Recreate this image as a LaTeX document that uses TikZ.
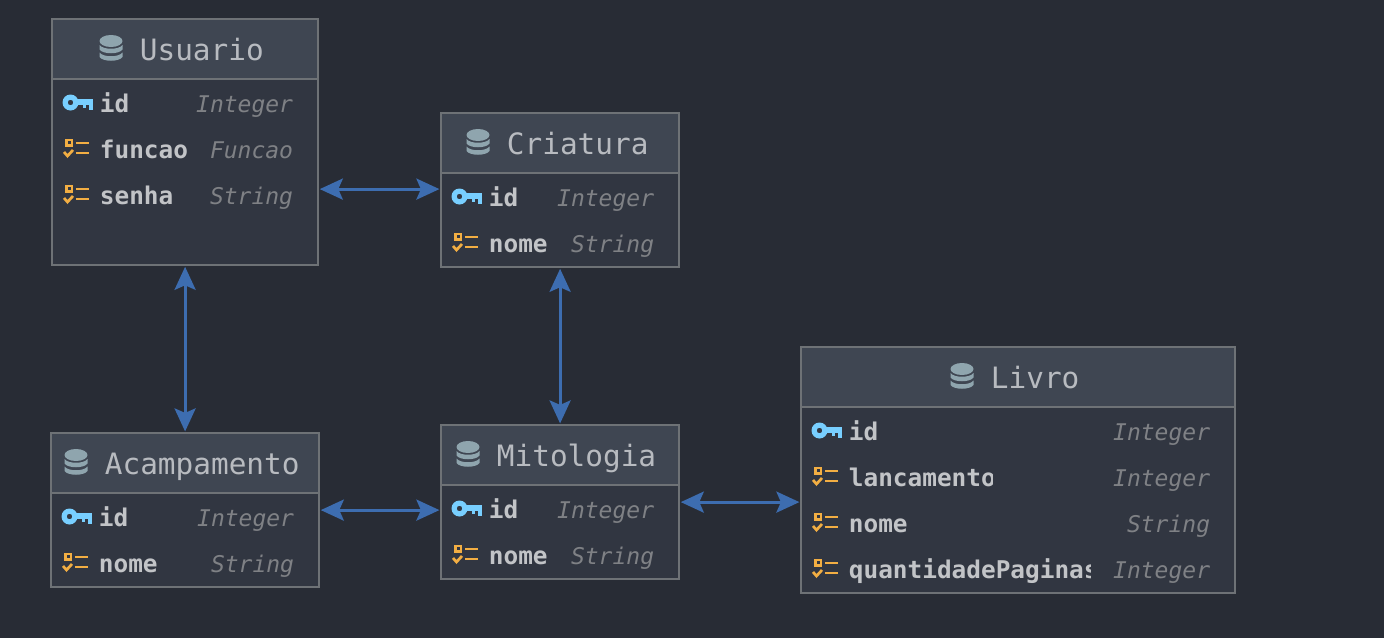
\documentclass[tikz,border=0pt]{standalone}
\usepackage{fontspec}
\setmainfont{DejaVu Sans Mono}
\usetikzlibrary{arrows.meta}
\definecolor{bgc}{HTML}{282C35}
\definecolor{bodyc}{HTML}{313641}
\definecolor{headc}{HTML}{3F4652}
\definecolor{edgec}{HTML}{6E7276}
\definecolor{titlec}{HTML}{B8BBC0}
\definecolor{attrc}{HTML}{C2C4C7}
\definecolor{typec}{HTML}{7F8185}
\definecolor{keyc}{HTML}{78CFFF}
\definecolor{itemc}{HTML}{F2AE43}
\definecolor{dbc}{HTML}{8FA5AE}
\definecolor{linkc}{HTML}{3D6DB0}
\newcounter{lbl}
\tikzset{
  tablebox/.style={draw=edgec,line width=1.4pt,fill=bodyc,inner sep=0pt,anchor=north west},
  headbox/.style={draw=edgec,line width=1.4pt,fill=headc,inner sep=0pt,anchor=north west},
  titletext/.style={text=titlec,inner sep=0pt,anchor=base west,font=\fontsize{29.4}{32}\selectfont},
  attrtext/.style={text=attrc,inner sep=0pt,anchor=base west,font=\fontsize{24.4}{28}\selectfont\bfseries},
  typetext/.style={text=typec,inner sep=0pt,anchor=base east,font=\fontsize{23}{28}\selectfont\itshape},
  link/.style={draw=linkc,line width=3pt,{Stealth[length=23pt,width=21pt,inset=4.5pt]}-{Stealth[length=23pt,width=21pt,inset=4.5pt]},shorten >=1pt,shorten <=1pt}
}
% name x0 y0 x1 y1 titleX title
\newcommand{\erbox}[7]{%
  \pgfmathsetlengthmacro{\boxw}{(#4-#2)*1pt}%
  \pgfmathsetlengthmacro{\boxh}{(#5-#3)*1pt}%
  \node[tablebox,minimum width=\boxw,minimum height=\boxh] (#1) at (#2-0.6,#3-0.6) {};
  \node[headbox,minimum width=\boxw,minimum height=60pt] (#1head) at (#2-0.6,#3-0.6) {};
  \node[titletext] (#1title) at (#6-0.3,#3+41) {#7};
  \begin{scope}[shift={(#6-40,#3+29)}]
    \fill[dbc] (11,-7) circle [x radius=11.5,y radius=6];
    \fill[dbc] (-0.5,-3) .. controls (3,2) and (19,2) .. (22.5,-3) -- (22.5,1.5) .. controls (19,6.5) and (3,6.5) .. (-0.5,1.5) -- cycle;
    \fill[dbc] (-0.5,4.5) .. controls (3,9.5) and (19,9.5) .. (22.5,4.5) -- (22.5,9) .. controls (19,14) and (3,14) .. (-0.5,9) -- cycle;
  \end{scope}
}
% icon x, y centre
\newcommand{\keyicon}[2]{%
  \begin{scope}[shift={(#1+0.5,#2)}]
    \fill[keyc,even odd rule] (8,0) circle [radius=8] (8,0) circle [radius=2.8];
    \fill[keyc] (13,-3.5) rectangle (30,2.5);
    \fill[keyc] (26,0) rectangle (30,7.5);
    \fill[keyc] (20,0) rectangle (23.5,5.5);
  \end{scope}}
\newcommand{\itemicon}[2]{%
  \begin{scope}[shift={(#1,#2)}]
    \draw[itemc,line width=2.6pt] (2.2,-8) rectangle (7.8,-2.4);
    \draw[itemc,line width=2.7pt] (12,-5) -- (25,-5);
    \draw[itemc,line width=2.7pt] (12,5) -- (25,5);
    \draw[itemc,line width=2.7pt] (0,4) -- (3.5,8) -- (9,2);
  \end{scope}}
% textX y rightX name type
\newcommand{\attrrow}[5]{%
  \stepcounter{lbl}%
  \node[attrtext] (a\arabic{lbl}) at (#1-0.3,#2+9.2) {#4};
  \node[typetext] (b\arabic{lbl}) at (#3+0.3,#2+9.2) {#5};}
% clipped variant: additional clipX
\newcommand{\cliprow}[6]{%
  \stepcounter{lbl}%
  \begin{scope}
    \clip (#1-2,#2-20) rectangle (#6,#2+20);
    \node[attrtext] (a\arabic{lbl}) at (#1-0.3,#2+9.2) {#4};
  \end{scope}
  \node[typetext] (b\arabic{lbl}) at (#3+0.3,#2+9.2) {#5};}
\begin{document}
\begin{tikzpicture}[x=1pt,y=-1pt]
\useasboundingbox (0,0) rectangle (1384,638);
\fill[bgc] (0,0) rectangle (1384,638);

\erbox{usuario}{52}{19}{318}{265}{140}{Usuario}
\keyicon{62}{102.5}
\itemicon{64}{148}
\itemicon{64}{194}
\attrrow{100}{103}{293}{id}{Integer}
\attrrow{100}{149}{293}{funcao}{Funcao}
\attrrow{100}{195}{293}{senha}{String}

\erbox{criatura}{441}{113}{679}{267}{507}{Criatura}
\keyicon{451}{196.5}
\itemicon{453}{242}
\attrrow{489}{197}{654}{id}{Integer}
\attrrow{489}{243}{654}{nome}{String}

\erbox{acampamento}{51}{433}{319}{587}{105}{Acampamento}
\keyicon{61}{516.5}
\itemicon{63}{562}
\attrrow{99}{517}{294}{id}{Integer}
\attrrow{99}{563}{294}{nome}{String}

\erbox{mitologia}{441}{425}{679}{579}{497}{Mitologia}
\keyicon{451}{508.5}
\itemicon{453}{554}
\attrrow{489}{509}{654}{id}{Integer}
\attrrow{489}{555}{654}{nome}{String}

\erbox{livro}{801}{347}{1235}{593}{991}{Livro}
\keyicon{811}{430.5}
\itemicon{813}{476}
\itemicon{813}{522}
\itemicon{813}{568}
\attrrow{849}{431}{1210}{id}{Integer}
\cliprow{849}{477}{1210}{lancamento}{Integer}{992}
\attrrow{849}{523}{1210}{nome}{String}
\cliprow{849}{569}{1210}{quantidadePaginas}{Integer}{1090.5}

\draw[link] ([yshift=-47pt]usuario.east) -- ([yshift=1pt]criatura.west);
\draw[link] (usuario.south) -- (acampamento.north);
\draw[link] (criatura.south) -- (mitologia.north);
\draw[link] (acampamento.east) -- ([yshift=-8pt]mitologia.west);
\draw[link] (mitologia.east) -- ([yshift=-32pt]livro.west);
\end{tikzpicture}
\end{document}
